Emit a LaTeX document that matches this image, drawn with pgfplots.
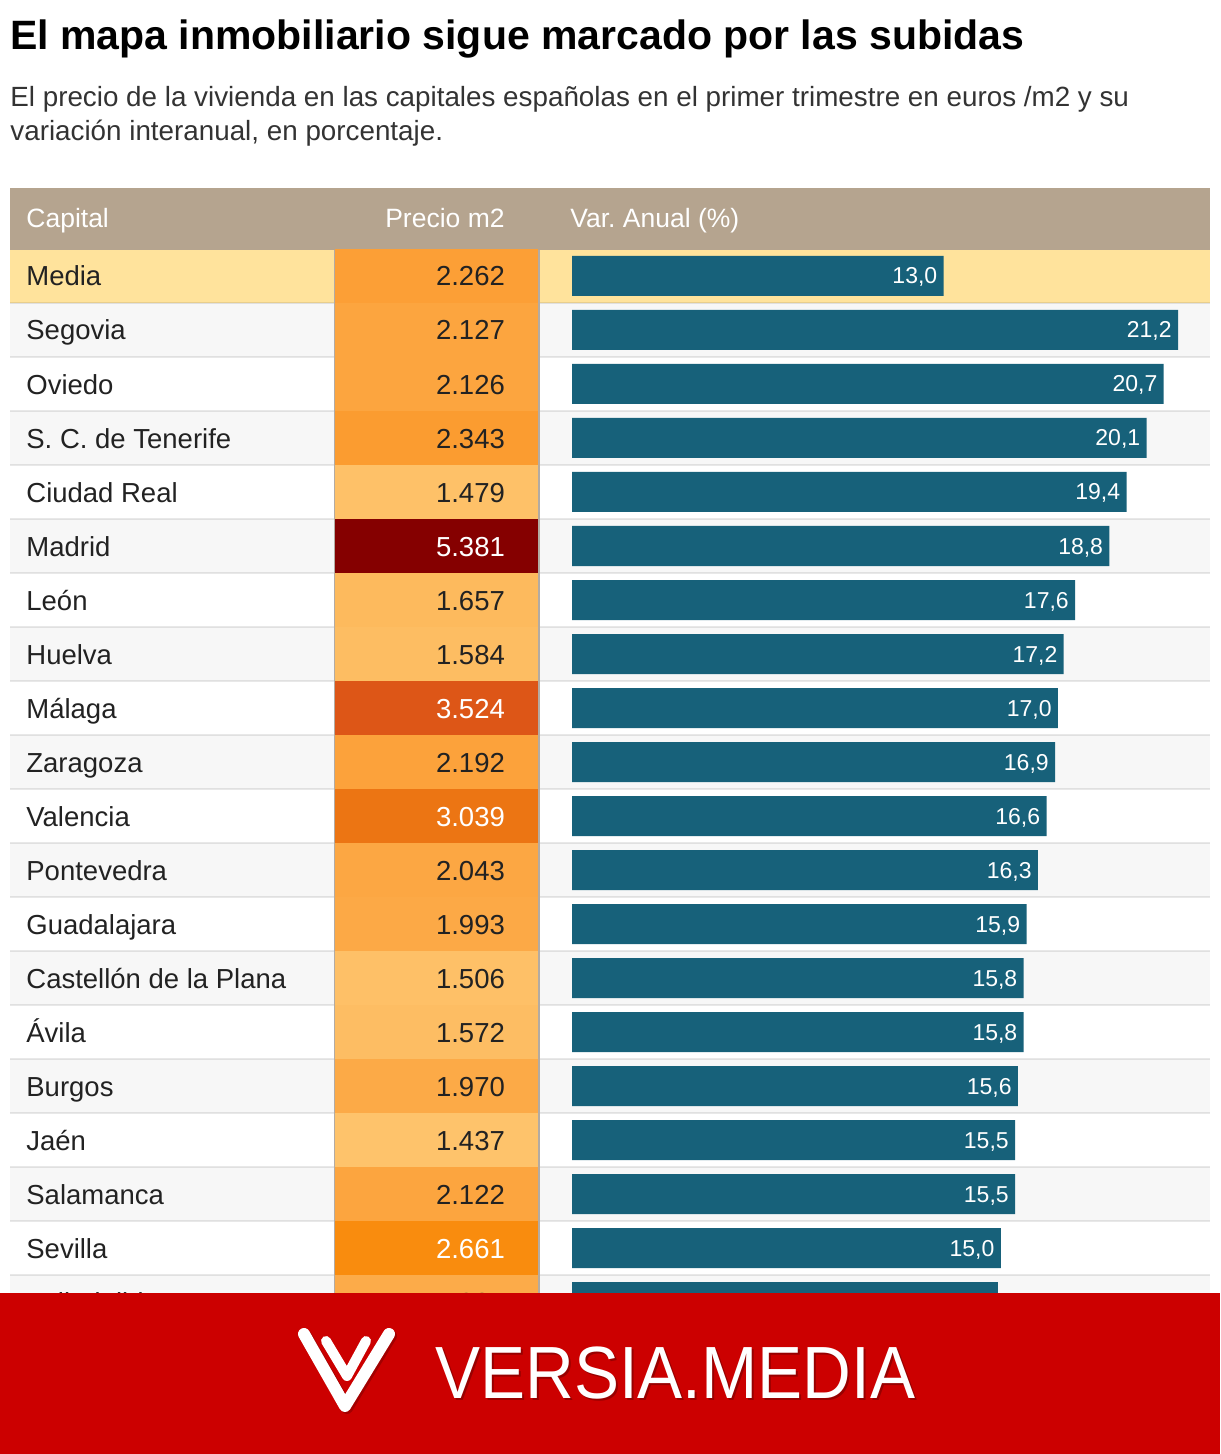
\documentclass[border=0pt]{standalone}
\usepackage{pgfplots}
\pgfplotsset{compat=1.18}
\usepackage{pgfplotstable}
\usepackage{graphicx}
\usepackage{fontspec}
\setmainfont{Liberation Sans}

\definecolor{headbg}{HTML}{B5A48F}
\definecolor{mediabg}{HTML}{FFE39C}
\definecolor{rowgrey}{HTML}{F7F7F7}
\definecolor{barblue}{HTML}{17617A}
\definecolor{txt}{HTML}{222222}
\definecolor{subtxt}{HTML}{333333}
\definecolor{colrule}{HTML}{B3ABA3}
\definecolor{banner}{HTML}{CC0000}

% price scale: 1400 ... 5400 euros/m2 in steps of 250
\pgfplotsset{
  colormap={precio}{
    rgb255(0cm)=(254,196,109) rgb255(1cm)=(253,186,94) rgb255(2cm)=(252,172,74)
    rgb255(3cm)=(252,164,62) rgb255(4cm)=(251,154,44) rgb255(5cm)=(249,141,14)
    rgb255(6cm)=(240,127,18) rgb255(7cm)=(233,110,20) rgb255(8cm)=(227,95,25)
    rgb255(9cm)=(216,77,22) rgb255(10cm)=(192,58,16) rgb255(11cm)=(176,44,11)
    rgb255(12cm)=(162,32,8) rgb255(13cm)=(150,21,5) rgb255(14cm)=(141,12,2)
    rgb255(15cm)=(136,5,0) rgb255(16cm)=(133,0,0)},
}

% price cell: 203 x 54 px (1 px = 0.5 pt), filled with the mapped colour
\pgfdeclareplotmark{cell}{%
  \pgfpathrectangle{\pgfqpoint{-50.75pt}{-13.5pt}}{\pgfqpoint{101.5pt}{27pt}}%
  \pgfusepathqfill}

\newcommand\bodyfont{\fontsize{13.75pt}{16pt}\selectfont}

% price per m2 (euros) and annual change (%) by capital
\pgfplotstableread[col sep=comma]{
i,name,price,var
0,Media,2262,13.0
1,Segovia,2127,21.2
2,Oviedo,2126,20.7
3,S. C. de Tenerife,2343,20.1
4,Ciudad Real,1479,19.4
5,Madrid,5381,18.8
6,León,1657,17.6
7,Huelva,1584,17.2
8,Málaga,3524,17.0
9,Zaragoza,2192,16.9
10,Valencia,3039,16.6
11,Pontevedra,2043,16.3
12,Guadalajara,1993,15.9
13,Castellón de la Plana,1506,15.8
14,Ávila,1572,15.8
15,Burgos,1970,15.6
16,Jaén,1437,15.5
17,Salamanca,2122,15.5
18,Sevilla,2661,15.0
19,Valladolid,1924,14.9
}\capitales

\pgfplotsset{
  canvas/.style={
    width=610pt, height=727pt, scale only axis, hide axis,
    at={(0pt,0pt)}, anchor=south west,
    ymin=0, ymax=1454, y dir=reverse, clip=false},
  pxcanvas/.style={canvas, xmin=0, xmax=1220},
}

\begin{document}
\begin{tikzpicture}

% ---- table body ----
\begin{axis}[pxcanvas, colormap name=precio,
    point meta min=1400, point meta max=5400]
  \path (axis cs:0,0) rectangle (axis cs:1220,1454);
  % title and subtitle
  \node[anchor=base west, inner sep=0, text=black]
    at (axis cs:10,50) {\fontsize{20.5pt}{24pt}\selectfont\bfseries El mapa inmobiliario sigue marcado por las subidas};
  \node[anchor=base west, inner sep=0, text=subtxt]
    at (axis cs:10,107) {\fontsize{13.9pt}{16pt}\selectfont El precio de la vivienda en las capitales españolas en el primer trimestre en euros /m2 y su};
  \node[anchor=base west, inner sep=0, text=subtxt]
    at (axis cs:10,141) {\fontsize{13.9pt}{16pt}\selectfont variación interanual, en porcentaje.};
  % header
  \fill[headbg] (axis cs:10,188) rectangle (axis cs:1210,250);
  \node[anchor=base west, inner sep=0, text=white] at (axis cs:26,228) {\fontsize{13.25pt}{16pt}\selectfont Capital};
  \node[anchor=base east, inner sep=0, text=white] at (axis cs:505,228) {\fontsize{13.25pt}{16pt}\selectfont Precio m2};
  \node[anchor=base west, inner sep=0, text=white] at (axis cs:570,228) {\fontsize{13.25pt}{16pt}\selectfont Var.\ Anual (\%)};
  % row backgrounds
  \fill[mediabg] (axis cs:10,250) rectangle (axis cs:1210,303);
  \pgfplotsinvokeforeach{1,3,5,7,9,11,13,15,17,19}{
    \fill[rowgrey] (axis cs:10,{303+54*(#1-1)}) rectangle (axis cs:1210,{303+54*#1});
  }
  % price cells coloured by price
  \addplot[scatter, only marks, mark=cell, point meta=explicit,
    scatter/use mapped color={draw=mapped color, fill=mapped color}]
    table[x expr=436.75, y expr={276+54*\thisrow{i}}, meta=price] {\capitales};
  % price figures, white on the darkest cells
  \addplot[draw=none, mark=none, point meta=explicit,
    visualization depends on={\thisrow{price} \as \pr},
    nodes near coords={\ifdim\pr pt>2500pt\color{white}\else\color{txt}\fi
      \pgfmathprintnumber[fixed,precision=0,1000 sep={.},assume math mode=true]{\pgfplotspointmeta}},
    nodes near coords style={anchor=base east, inner sep=0pt,
      xshift=34.25pt, yshift=-5pt, font=\bodyfont}]
    table[x expr=436.75, y expr={276+54*\thisrow{i}}, meta=price] {\capitales};
  % row separators
  \pgfplotsinvokeforeach{0,...,18}{
    \draw[black, opacity=0.09, line width=1pt] (axis cs:10,{303+54*#1}) -- (axis cs:1210,{303+54*#1});
  }
  % price column rules
  \draw[colrule, line width=1pt] (axis cs:335,250) -- (axis cs:335,1293);
  \draw[colrule, line width=1pt] (axis cs:538.5,250) -- (axis cs:538.5,1293);
  % capital names
  \addplot[draw=none, mark=none, point meta=explicit symbolic,
    nodes near coords,
    nodes near coords style={text=txt, anchor=base west, inner sep=0pt,
      yshift=-5pt, font=\bodyfont}]
    table[x expr=26, y expr={276+54*\thisrow{i}}, meta=name] {\capitales};
\end{axis}

% ---- annual change bars ----
\begin{axis}[canvas, xmin=-20.011, xmax=22.669]
  \addplot[xbar, bar width=20pt, fill=barblue, draw=none,
    point meta=x,
    nodes near coords={\pgfmathprintnumber[fixed,fixed zerofill,precision=1,use comma,assume math mode=true]{\pgfplotspointmeta}},
    nodes near coords style={text=white, anchor=base east, inner sep=0pt,
      xshift=-3pt, yshift=-4pt, font=\fontsize{11.5pt}{14pt}\selectfont}]
    table[x=var, y expr={276+54*\thisrow{i}}] {\capitales};
\end{axis}

% ---- footer banner ----
\begin{axis}[pxcanvas]
  \fill[banner] (axis cs:0,1293) rectangle (axis cs:1220,1454);
  \draw[black, opacity=0.2, line width=6pt, line cap=round, line join=round]
    (axis cs:306,1336) -- (axis cs:347,1408) -- (axis cs:391,1336);
  \draw[white, line width=6pt, line cap=round, line join=round]
    (axis cs:304,1334) -- (axis cs:345,1406) -- (axis cs:389,1334);
  \draw[white, line width=5pt, line cap=round, line join=round]
    (axis cs:326,1341) -- (axis cs:347,1376) -- (axis cs:366,1341);
  \node[anchor=base west, inner sep=0, text=black, opacity=0.25]
    at (axis cs:437,1400) {\scalebox{0.912}[1]{\fontsize{37pt}{40pt}\selectfont VERSIA.MEDIA}};
  \node[anchor=base west, inner sep=0, text=white]
    at (axis cs:435,1398) {\scalebox{0.912}[1]{\fontsize{37pt}{40pt}\selectfont VERSIA.MEDIA}};
\end{axis}

\end{tikzpicture}
\end{document}
